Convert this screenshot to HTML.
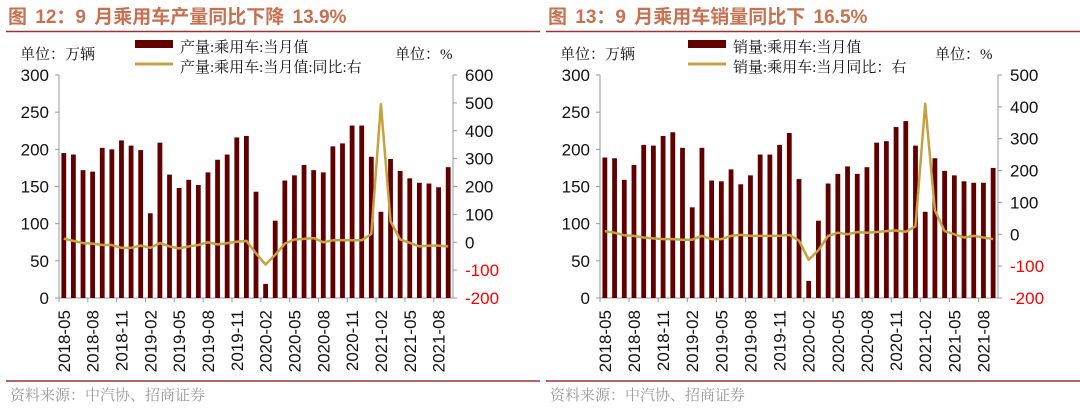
<!DOCTYPE html>
<html><head><meta charset="utf-8"><style>
body{margin:0;background:#fff;width:1080px;height:409px;overflow:hidden}
svg{display:block}
.t{font-family:"Liberation Sans","Noto Sans CJK SC",sans-serif}
.s{font-family:"Liberation Serif","Noto Serif CJK SC",serif}
</style></head><body>
<svg id="c" width="1080" height="409" viewBox="0 0 1080 409"></svg>
<script>
const months=[];for(let y=2018,m=5;months.length<41;){months.push(y+'-'+String(m).padStart(2,'0'));m++;if(m>12){m=1;y++;}}
const prodValues=[195,193,172,170,202,200,212,205,199,114,209,166,148,159,152,169,186,193,216,218,143,19,104,158,165,179,172,169,204,208,232,232,190,116,187,171,161,155,154,149,176];
const prodYoY=[13,5,-3,-5,-10,-10,-20,-20,-12,-20,-3,-15,-22,-15,-10,0,-8,-3,2,5,-40,-80,-45,-5,10,12,15,0,7,7,7,7,30,495,75,10,-2,-15,-12,-12,-15];
const salesValues=[189,188,159,179,206,205,218,223,202,122,202,158,157,173,153,165,193,193,206,222,160,23,104,154,167,177,167,176,209,211,230,238,205,116,188,171,165,157,155,155,175];
const salesYoY=[10,5,-3,-5,-10,-13,-15,-15,-17,-17,-5,-15,-15,-5,-2,-5,-5,-5,-5,-2,-20,-80,-50,-5,5,0,7,5,7,10,12,8,25,410,75,10,0,-10,-5,-10,-15];
const leftTicks=[0,50,100,150,200,250,300];
const rightTicksProd=[-200,-100,0,100,200,300,400,500,600];
const rightTicksSales=[-200,-100,0,100,200,300,400,500];
const NS='http://www.w3.org/2000/svg';
const svg=document.getElementById('c');
function el(tag,attrs,parent,text){const e=document.createElementNS(NS,tag);for(const k in attrs)e.setAttribute(k,attrs[k]);if(text!==undefined)e.textContent=text;(parent||svg).appendChild(e);return e;}
function chart(o){
  const g=el('g',{});
  
  
  const x0=o.x0,x1=o.x1,yT=75,yB=298,n=o.bars.length,cw=(x1-x0)/n;
  const yL=v=>yB-(v-0)/300*(yB-yT);
  const rMin=o.rTicks[0],rMax=o.rTicks[o.rTicks.length-1];
  const yR=v=>yB-(v-rMin)/(rMax-rMin)*(yB-yT);
  const xc=i=>x0+cw*(i+0.5);
  const t=el('text',{x:o.tx,y:23,class:'t','font-size':19,'font-weight':'bold',fill:'#c8704f','word-spacing':3},g,o.title);
  
  const l1=el('line',{x1:o.tx-2,x2:o.tx+532,y1:31.5,y2:31.5,stroke:'#a33030','stroke-width':1.5},g);
  
  const u1=el('text',{x:o.tx+12,y:59,class:'s','font-size':15,fill:'#111'},g,'单位：万辆');
  
  const u2=el('text',{x:o.tx+387,y:59,class:'s','font-size':15,fill:'#111'},g,'单位：%');
  
  const lr=el('rect',{x:o.lx,y:40,width:38,height:8,fill:'#620000'},g);
  
  const lt=el('text',{x:o.lx+45,y:52,class:'s','font-size':15,fill:'#111'},g,o.leg1);
  
  const ll=el('line',{x1:o.lx,x2:o.lx+38,y1:64,y2:64,stroke:'#c8a13e','stroke-width':3},g);
  
  const lt2=el('text',{x:o.lx+45,y:72,class:'s','font-size':15,fill:'#111'},g,o.leg2);
  
  const ax=el('path',{d:`M${x0} ${yT}V${yB}M${x1} ${yT}V${yB}M${x0} ${yB}H${x1}`,stroke:'#999',fill:'none','stroke-width':1},g);
  
  leftTicks.forEach(v=>{
    el('line',{x1:x0-4,x2:x0,y1:yL(v),y2:yL(v),stroke:'#999'},g);
    const tx=el('text',{x:x0-10,y:yL(v)+6,'text-anchor':'end',class:'t','font-size':17,fill:'#111'},g,v);
    
  });
  o.rTicks.forEach(v=>{
    el('line',{x1:x1,x2:x1+4,y1:yR(v),y2:yR(v),stroke:'#999'},g);
    const tx=el('text',{x:x1+12,y:yR(v)+6,class:'t','font-size':17,fill:v<0?'#ff0000':'#111'},g,v);
    
  });
  o.bars.forEach((v,i)=>{
    const r=el('rect',{x:xc(i)-2.4,y:yL(v),width:4.8,height:yB-yL(v),fill:'#620000'},g);
    
    
    if(i%3===0){
      el('line',{x1:x0+cw*i,x2:x0+cw*i,y1:yB,y2:yB+4,stroke:'#999'},g);
      const tx=el('text',{x:0,y:0,transform:`translate(${xc(i)+6},${yB+12}) rotate(-90)`,'text-anchor':'end',class:'t','font-size':17,fill:'#111'},g,months[i]);
      
    }
  });
  const p=el('polyline',{points:o.line.map((v,i)=>xc(i)+','+yR(v)).join(' '),fill:'none',stroke:'#c8a13e','stroke-width':2.5,'stroke-linejoin':'round'},g);
  
  const l2=el('line',{x1:o.tx-2,x2:o.tx+532,y1:381,y2:381,stroke:'#a33030','stroke-width':1.5},g);
  
  const f=el('text',{x:o.tx+2,y:400,class:'s','font-size':15,fill:'#999'},g,'资料来源：中汽协、招商证券');
  
}
chart({name:'production-chart',x0:59,x1:453,tx:8,lx:135,bars:prodValues,line:prodYoY,rTicks:rightTicksProd,
  title:'图 12：9 月乘用车产量同比下降 13.9%',leg1:'产量:乘用车:当月值',leg2:'产量:乘用车:当月值:同比:右'});
chart({name:'sales-chart',x0:600,x1:998,tx:548,lx:688,bars:salesValues,line:salesYoY,rTicks:rightTicksSales,
  title:'图 13：9 月乘用车销量同比下 16.5%',leg1:'销量:乘用车:当月值',leg2:'销量:乘用车:当月同比：右'});
</script>
</body></html>
